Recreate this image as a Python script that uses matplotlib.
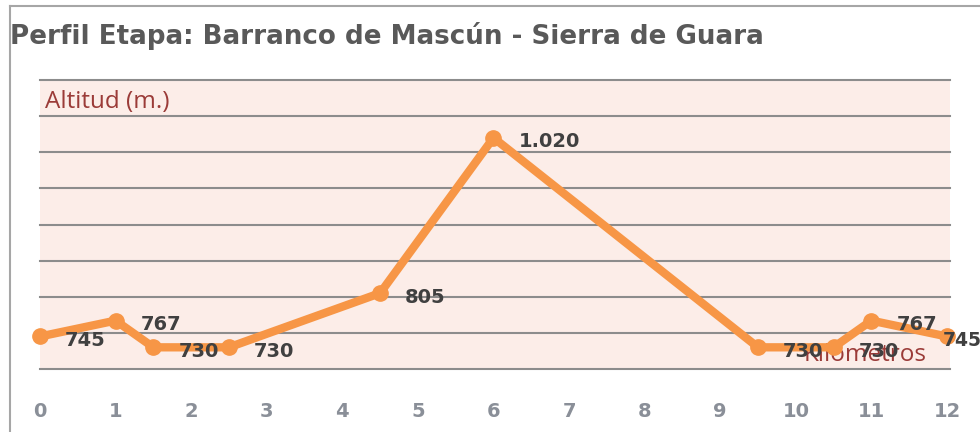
import matplotlib.pyplot as plt
from matplotlib.lines import Line2D

# datos del perfil
km = [0, 1, 1.5, 2.5, 4.5, 6, 9.5, 10.5, 11, 12]
altitud = [745, 767, 730, 730, 805, 1020, 730, 730, 767, 745]
etiquetas = ["745", "767", "730", "730", "805", "1.020", "730", "730", "767", "745"]
xticks = list(range(0, 13))
yticks = list(range(700, 1101, 50))

fig = plt.figure(figsize=(9.8, 4.32), dpi=100)
W, H = 980, 432

# marco gris arriba y a la izquierda
fig.add_artist(Line2D([10 / W, 1], [1 - 6 / H] * 2, transform=fig.transFigure,
                      color="#a6a6a6", lw=1.5))
fig.add_artist(Line2D([10 / W] * 2, [0, 1 - 6 / H], transform=fig.transFigure,
                      color="#a6a6a6", lw=1.5))

fig.text(10 / W, 1 - 36 / H, "Perfil Etapa: Barranco de Mascún - Sierra de Guara",
         fontsize=18.8, fontweight="bold", color="#595959", va="center", ha="left")

ax = fig.add_axes([40 / W, 63 / H, 910 / W, 289 / H])
ax.set_facecolor("#fcede8")
ax.set_xlim(0, 12.04)
ax.set_ylim(700, 1100)
for s in ax.spines.values():
    s.set_visible(False)

for y in yticks:
    ax.axhline(y, color="#8c8c8c", lw=1.5, zorder=1, clip_on=False)

ax.plot(km, altitud, color="#f79646", lw=6, marker="o", markersize=11,
        zorder=3, clip_on=False)

for i, (x, y, t) in enumerate(zip(km, altitud, etiquetas)):
    ultima = i == len(km) - 1  # la última se ajusta al borde
    ax.annotate(t, (x, y), xytext=(-3 if ultima else 18, -3),
                textcoords="offset points", ha="left", va="center",
                fontsize=13.5 if ultima else 14, fontweight="bold",
                color="#404040", zorder=4)

ax.set_xticks(xticks)
ax.set_xticklabels([str(v) for v in xticks])
ax.set_yticks([])
ax.tick_params(axis="x", length=0, pad=24, labelsize=14, labelcolor="#8a8f98")
for lab in ax.get_xticklabels():
    lab.set_fontweight("bold")

ax.text(5 / 910, 1 - 22 / 289, "Altitud (m.)", transform=ax.transAxes,
        fontsize=17.5, family="Open Sans", color="#9b3b38", ha="left", va="center")
ax.text(1 - 23 / 910, 14 / 289, "Kilómetros", transform=ax.transAxes,
        fontsize=17.5, family="Open Sans", color="#9b3b38", ha="right", va="center",
        zorder=2)

fig.savefig("out.png", dpi=100)
